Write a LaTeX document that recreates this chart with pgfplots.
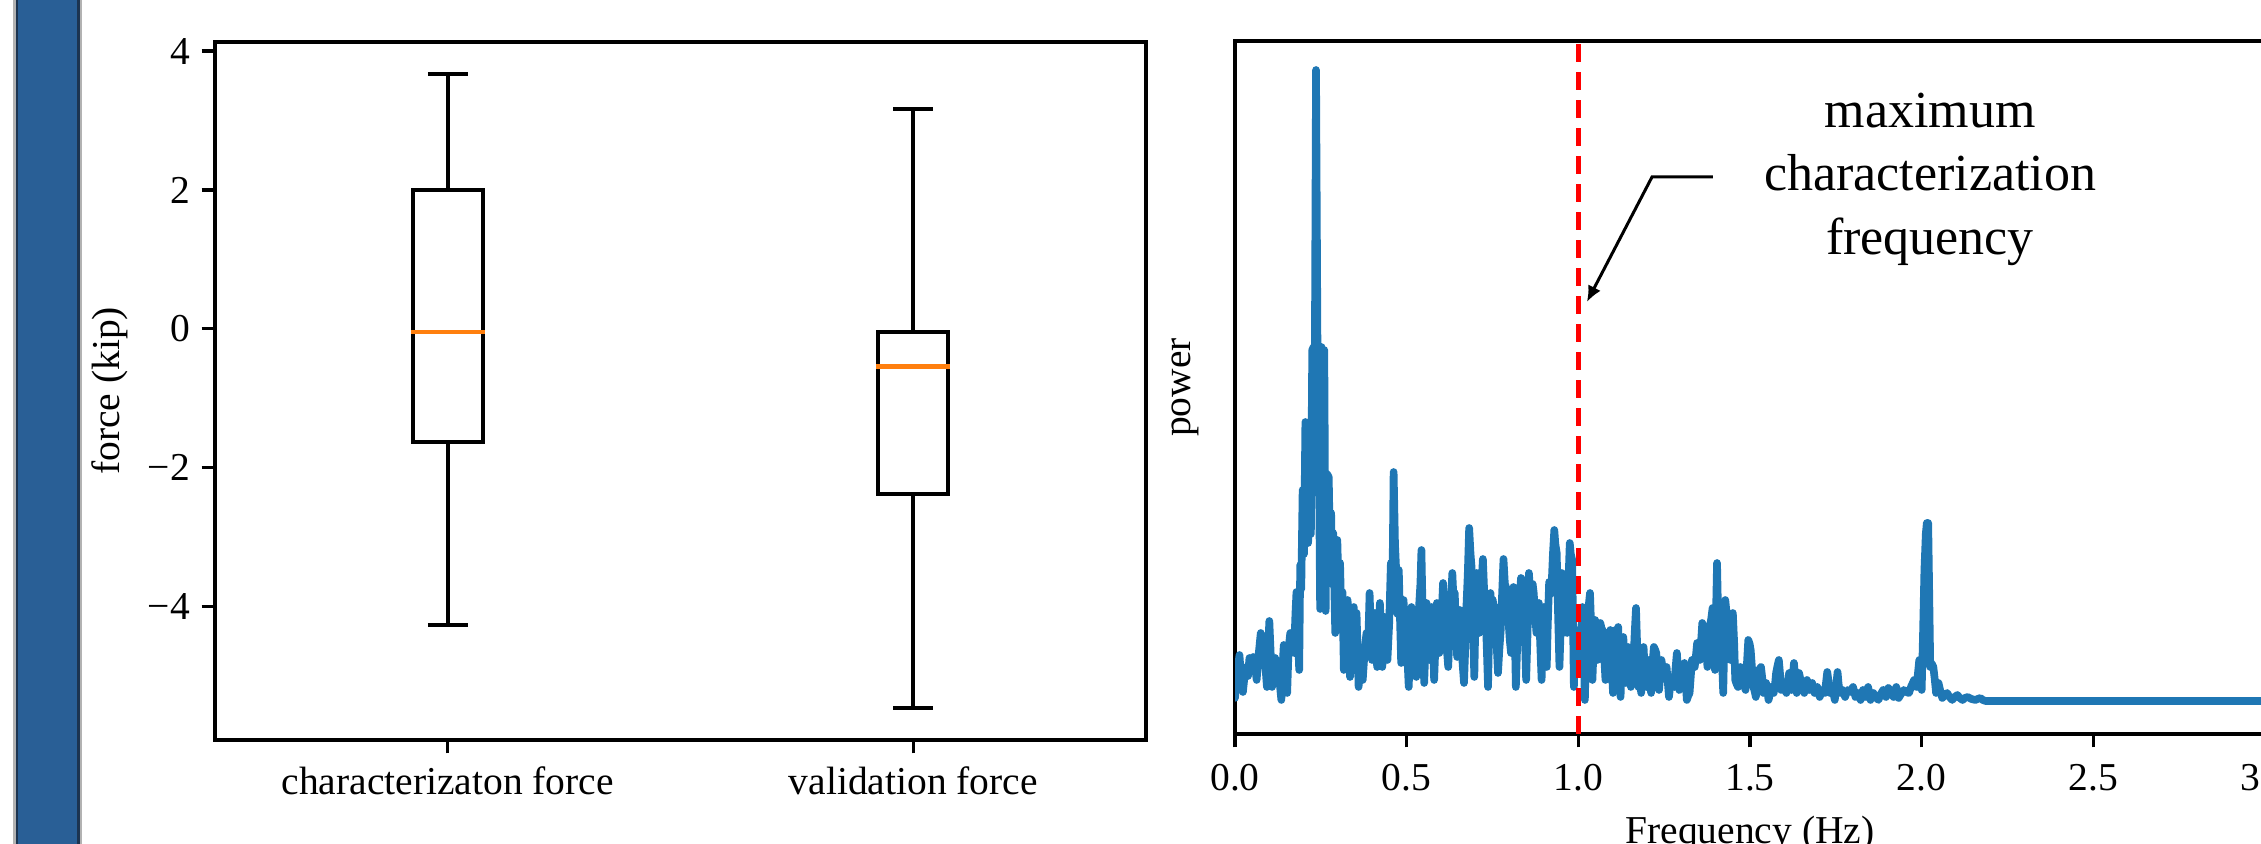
\documentclass[border=0pt]{standalone}
\usepackage{fontspec}
\setmainfont{Liberation Serif}
\usepackage{pgfplots}
\pgfplotsset{compat=1.18}
\usetikzlibrary{arrows.meta}
\definecolor{mplblue}{HTML}{1F77B4}
\definecolor{mplorange}{HTML}{FF7F0E}
\definecolor{panelblue}{RGB}{41,95,150}
\definecolor{paneldark}{RGB}{28,52,80}

\pgfplotstableread{
f P
0.000 36
0.006 60
0.013 79
0.018 55
0.023 42
0.029 62
0.034 67
0.038 58
0.042 76
0.047 65
0.053 77
0.058 70
0.063 54
0.069 80
0.075 101
0.079 75
0.083 87
0.088 70
0.093 47
0.097 90
0.100 113
0.104 80
0.108 47
0.112 70
0.117 76
0.120 60
0.124 67
0.129 55
0.135 34
0.139 70
0.142 89
0.147 60
0.152 41
0.156 85
0.161 101
0.166 90
0.172 81
0.176 120
0.179 142
0.183 100
0.187 64
0.190 169
0.193 145
0.197 244
0.201 180
0.205 312
0.209 287
0.213 191
0.217 250
0.221 200
0.225 384
0.229 387
0.232 330
0.236 664
0.240 400
0.244 293
0.248 125
0.252 387
0.256 250
0.260 384
0.264 123
0.268 260
0.273 257
0.276 196
0.280 221
0.283 150
0.286 201
0.292 101
0.298 194
0.302 140
0.306 171
0.310 110
0.313 142
0.317 64
0.322 100
0.328 134
0.332 90
0.335 57
0.340 95
0.346 127
0.350 80
0.354 121
0.360 47
0.366 80
0.372 54
0.378 85
0.383 101
0.388 90
0.392 141
0.396 100
0.399 74
0.403 95
0.407 121
0.411 90
0.414 67
0.418 100
0.422 131
0.426 95
0.429 67
0.433 90
0.436 117
0.440 95
0.444 74
0.449 110
0.454 171
0.458 130
0.462 262
0.466 190
0.469 167
0.473 120
0.477 164
0.481 110
0.484 71
0.488 100
0.491 134
0.495 95
0.499 101
0.503 70
0.506 47
0.510 90
0.514 127
0.518 100
0.521 121
0.525 85
0.528 57
0.532 95
0.536 127
0.540 150
0.543 184
0.547 110
0.551 51
0.555 90
0.558 131
0.562 100
0.566 74
0.570 95
0.573 127
0.577 90
0.580 54
0.585 100
0.588 131
0.592 110
0.595 81
0.598 90
0.602 120
0.606 151
0.610 120
0.613 101
0.617 85
0.621 67
0.626 110
0.630 140
0.633 161
0.637 130
0.640 141
0.644 100
0.647 77
0.651 100
0.655 124
0.660 90
0.663 70
0.667 51
0.671 90
0.674 127
0.678 160
0.682 206
0.686 180
0.689 167
0.693 110
0.697 57
0.700 110
0.704 161
0.708 130
0.711 101
0.714 120
0.718 150
0.722 175
0.726 140
0.729 127
0.733 90
0.737 47
0.740 100
0.744 141
0.748 120
0.751 134
0.755 110
0.759 127
0.762 90
0.766 61
0.770 85
0.774 104
0.778 140
0.782 175
0.786 150
0.789 147
0.793 130
0.796 117
0.800 95
0.804 81
0.808 110
0.811 147
0.815 100
0.818 47
0.822 90
0.826 121
0.830 140
0.833 156
0.837 140
0.841 127
0.845 90
0.848 54
0.852 100
0.856 161
0.860 140
0.863 134
0.867 150
0.870 141
0.874 120
0.878 101
0.881 120
0.885 131
0.889 90
0.893 54
0.896 90
0.900 127
0.904 100
0.908 67
0.911 110
0.915 152
0.919 140
0.922 147
0.926 180
0.930 204
0.933 190
0.937 181
0.941 120
0.945 67
0.949 110
0.952 161
0.956 140
0.960 131
0.963 110
0.967 101
0.971 150
0.975 191
0.978 180
0.982 174
0.985 100
0.987 47
0.990 80
0.994 104
0.999 80
1.004 61
1.008 100
1.012 127
1.016 80
1.019 34
1.023 90
1.027 121
1.031 131
1.034 141
1.038 100
1.041 54
1.045 90
1.049 114
1.053 95
1.056 74
1.060 100
1.064 111
1.068 105
1.071 104
1.075 80
1.079 54
1.082 90
1.086 101
1.090 95
1.093 104
1.097 70
1.101 41
1.105 80
1.108 104
1.112 100
1.116 107
1.120 70
1.123 37
1.127 80
1.131 97
1.135 70
1.138 51
1.142 75
1.145 87
1.149 65
1.153 47
1.157 60
1.160 67
1.164 100
1.168 126
1.172 80
1.175 47
1.179 60
1.183 41
1.187 70
1.190 87
1.194 60
1.198 47
1.202 65
1.205 74
1.209 55
1.212 41
1.216 70
1.220 87
1.224 84
1.227 81
1.231 60
1.235 44
1.239 60
1.242 74
1.246 65
1.250 57
1.254 62
1.257 67
1.261 50
1.264 37
1.268 50
1.272 57
1.276 52
1.279 47
1.283 65
1.287 81
1.291 60
1.294 44
1.298 48
1.302 51
1.306 62
1.309 71
1.313 50
1.316 34
1.320 38
1.324 41
1.328 60
1.331 74
1.335 70
1.339 67
1.343 80
1.346 91
1.350 82
1.354 74
1.358 95
1.361 111
1.365 105
1.369 101
1.373 85
1.376 67
1.380 90
1.383 107
1.387 115
1.391 126
1.395 95
1.398 64
1.401 120
1.404 171
1.407 120
1.410 67
1.413 85
1.416 101
1.419 70
1.422 41
1.425 90
1.428 134
1.432 120
1.435 104
1.439 90
1.443 74
1.446 100
1.450 121
1.454 90
1.457 54
1.461 50
1.465 47
1.468 57
1.472 67
1.476 60
1.480 51
1.484 48
1.487 44
1.491 70
1.495 94
1.499 90
1.502 84
1.506 65
1.510 47
1.514 42
1.517 37
1.521 50
1.524 61
1.528 65
1.532 67
1.536 55
1.539 41
1.543 46
1.547 51
1.551 42
1.554 34
1.558 40
1.562 47
1.566 44
1.569 41
1.573 50
1.576 61
1.580 68
1.584 74
1.588 58
1.591 44
1.595 46
1.599 47
1.603 44
1.606 41
1.610 50
1.614 61
1.618 52
1.621 44
1.625 58
1.628 71
1.632 55
1.636 41
1.640 50
1.643 61
1.647 54
1.651 47
1.655 44
1.658 41
1.662 48
1.666 54
1.670 49
1.673 44
1.677 48
1.681 51
1.685 46
1.688 41
1.692 44
1.696 47
1.700 42
1.703 37
1.707 41
1.710 44
1.714 43
1.718 41
1.721 50
1.725 62
1.729 52
1.733 41
1.736 43
1.740 44
1.744 39
1.747 34
1.751 48
1.755 62
1.758 50
1.762 41
1.766 43
1.770 44
1.774 40
1.777 37
1.781 41
1.785 44
1.792 42
1.800 47
1.804 42
1.807 37
1.811 39
1.814 41
1.818 38
1.822 34
1.826 39
1.829 44
1.833 40
1.837 37
1.840 42
1.844 47
1.848 40
1.851 34
1.855 38
1.859 41
1.866 37
1.874 34
1.881 40
1.888 44
1.892 40
1.896 37
1.900 42
1.903 46
1.910 42
1.918 37
1.922 42
1.926 47
1.930 41
1.933 36
1.940 40
1.948 44
1.955 42
1.963 41
1.970 48
1.978 54
1.982 50
1.985 47
1.989 60
1.993 74
1.997 60
2.000 44
2.004 100
2.008 164
2.012 200
2.015 211
2.019 211
2.022 140
2.025 67
2.030 70
2.034 67
2.038 55
2.042 41
2.045 46
2.049 51
2.055 42
2.060 36
2.067 39
2.074 41
2.081 37
2.089 34
2.096 37
2.104 39
2.111 36
2.119 34
2.126 36
2.134 37
2.145 35
2.156 34
2.163 35
2.171 36
2.178 34
2.186 33
2.200 33
2.300 33
2.500 33
2.700 33
3.000 33
}\spectrum

\begin{document}
\begin{tikzpicture}
\useasboundingbox (0,0) rectangle (678.3pt,253.2pt);
\clip (0,0) rectangle (678.3pt,253.2pt);
\fill[gray!60] (3.9pt,0) rectangle (24.6pt,253.2pt);
\fill[paneldark] (4.8pt,0) rectangle (24pt,253.2pt);
\fill[panelblue] (5.4pt,0) rectangle (23.1pt,253.2pt);

\pgfplotsset{
  every axis/.append style={
    scale only axis,
    font=\fontsize{11.85pt}{14pt}\selectfont,
    axis line style={line width=0.95pt},
    every tick/.style={line width=0.95pt, black},
    major tick length=4pt,
    tick align=outside,
    xtick pos=bottom,
    ytick pos=left,
    clip=true,
  },
}

\begin{axis}[
  at={(64.5pt,31.2pt)}, anchor=south west,
  width=279.3pt, height=209.4pt,
  xmin=0.5, xmax=2.5, ymin=-5.917, ymax=4.13,
  xtick={1,2}, xticklabels={characterizaton force, validation force},
  xticklabel style={yshift=-0.5pt},
  ytick={-4,-2,0,2,4}, yticklabels={−4,−2,0,2,4},
  ylabel={force (kip)},
  ylabel style={at={(axis description cs:-0.1128,0.5)}, anchor=center, inner sep=0pt},
]
% characterization force
\addplot[black, line width=1.25pt, line join=miter] coordinates {(0.925,-1.63) (1.075,-1.63) (1.075,2.0) (0.925,2.0) (0.925,-1.63) (1.075,-1.63)};
\addplot[black, line width=1.25pt] coordinates {(1,2.0) (1,3.67)};
\addplot[black, line width=1.25pt] coordinates {(1,-1.63) (1,-4.26)};
\addplot[black, line width=1.25pt] coordinates {(0.9575,3.67) (1.0425,3.67)};
\addplot[black, line width=1.25pt] coordinates {(0.9575,-4.26) (1.0425,-4.26)};
\addplot[mplorange, line width=1.25pt] coordinates {(0.921,-0.043) (1.079,-0.043)};
% validation force
\addplot[black, line width=1.25pt, line join=miter] coordinates {(1.925,-2.38) (2.075,-2.38) (2.075,-0.05) (1.925,-0.05) (1.925,-2.38) (2.075,-2.38)};
\addplot[black, line width=1.25pt] coordinates {(2,-0.05) (2,3.16)};
\addplot[black, line width=1.25pt] coordinates {(2,-2.38) (2,-5.46)};
\addplot[black, line width=1.25pt] coordinates {(1.9575,3.16) (2.0425,3.16)};
\addplot[black, line width=1.25pt] coordinates {(1.9575,-5.46) (2.0425,-5.46)};
\addplot[mplorange, line width=1.25pt] coordinates {(1.921,-0.54) (2.079,-0.54)};
\end{axis}

\begin{axis}[
  at={(370.5pt,33pt)}, anchor=south west,
  width=309pt, height=207.9pt,
  xmin=0, xmax=3, ymin=0, ymax=693,
  xtick={0,0.5,1,1.5,2,2.5,3},
  xticklabels={0.0,0.5,1.0,1.5,2.0,2.5,3.0},
  xticklabel style={yshift=-1.5pt},
  ytick=\empty,
  ylabel={power},
  ylabel style={at={(axis description cs:-0.0485,0.5)}, anchor=center, inner sep=0pt},
  xlabel={Frequency (Hz)},
  xlabel style={at={(axis description cs:0.5,-0.118)}, anchor=north, inner sep=0pt},
]
\addplot[mplblue, line width=2.3pt, line join=round, line cap=round] table[x=f, y=P] {\spectrum};
\addplot[red, line width=1.3pt, dash pattern=on 5.4pt off 3pt] coordinates {(1,0) (1,693)};
\draw[line width=0.9pt, -{Latex[length=4.8pt,width=4.2pt]}] (axis cs:1.392,557) -- (axis cs:1.2146,557) -- (axis cs:1.025,432);
\node[font=\fontsize{15.6pt}{19.05pt}\selectfont, align=center, inner sep=0pt] at (axis cs:2.0243,555) {maximum\\characterization\\frequency};
\end{axis}
\end{tikzpicture}
\end{document}
